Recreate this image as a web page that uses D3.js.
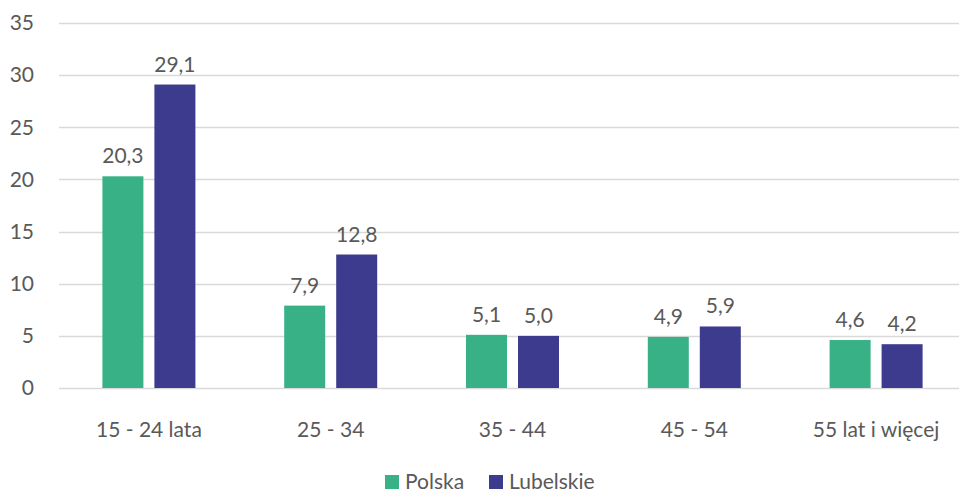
<!DOCTYPE html>
<html>
<head>
<meta charset="utf-8">
<script src="https://cdn.jsdelivr.net/npm/d3@7"></script>
<style>
  body { margin: 0; background: #fff; }
  text { font-family: Lato, sans-serif; fill: #595959; }
</style>
</head>
<body>
<script>
var categories = ['15 - 24 lata', '25 - 34', '35 - 44', '45 - 54', '55 lat i więcej']
var series = ['Polska', 'Lubelskie']
var polska = [20.3, 7.9, 5.1, 4.9, 4.6]
var lubelskie = [29.1, 12.8, 5.0, 5.9, 4.2]
var yTicks = [0, 5, 10, 15, 20, 25, 30, 35]
var colors = ['#38b187', '#3d3b8e']

var width = 959
var height = 493
var fs = '21px'

var svg = d3.select('body').append('svg')
  .attr('width', width)
  .attr('height', height)

var x = d3.scaleBand()
  .domain(categories)
  .range([58, 967])

var y = d3.scaleLinear()
  .domain([0, 35])
  .range([388, 23])

var barW = 41
var gap = 11

// gridlines
svg.append('g')
  .selectAll('line')
  .data(yTicks)
  .enter().append('line')
  .attr('x1', 59)
  .attr('x2', width)
  .attr('y1', function (d) { return Math.round(y(d)) + 0.5 })
  .attr('y2', function (d) { return Math.round(y(d)) + 0.5 })
  .attr('stroke', '#d9d9d9')
  .attr('stroke-width', 1.3)

// y labels
svg.append('g')
  .selectAll('text')
  .data(yTicks)
  .enter().append('text')
  .attr('x', 34)
  .attr('y', function (d) { return y(d) })
  .attr('dy', '0.35em')
  .attr('text-anchor', 'end')
  .style('font-size', fs)
  .text(function (d) { return d })

var rows = categories.map(function (c, i) {
  return { cat: c, vals: [polska[i], lubelskie[i]] }
})

var groups = svg.append('g')
  .selectAll('g')
  .data(rows)
  .enter().append('g')
  .attr('transform', function (d) {
    return 'translate(' + (x(d.cat) + x.bandwidth() / 2) + ',0)'
  })

function barX (j) {
  return j === 0 ? -barW - gap / 2 : gap / 2
}

groups.selectAll('rect')
  .data(function (d) { return d.vals })
  .enter().append('rect')
  .attr('x', function (d, j) { return barX(j) })
  .attr('width', barW)
  .attr('y', function (d) { return y(d) })
  .attr('height', function (d) { return y(0) - y(d) })
  .attr('fill', function (d, j) { return colors[j] })

groups.selectAll('text')
  .data(function (d) { return d.vals })
  .enter().append('text')
  .attr('x', function (d, j) { return barX(j) + barW / 2 })
  .attr('y', function (d) { return y(d) - 13 })
  .attr('text-anchor', 'middle')
  .style('font-size', fs)
  .text(function (d) { return d.toFixed(1).replace('.', ',') })

// category labels
groups.append('text')
  .attr('y', 437)
  .attr('text-anchor', 'middle')
  .style('font-size', fs)
  .text(function (d) { return d.cat })

// legend
var legendX = [385, 489]
var legend = svg.append('g')
  .selectAll('g')
  .data(series)
  .enter().append('g')
  .attr('transform', function (d, i) { return 'translate(' + legendX[i] + ',475)' })

legend.append('rect')
  .attr('width', 14)
  .attr('height', 14)
  .attr('fill', function (d, i) { return colors[i] })

legend.append('text')
  .attr('x', 20)
  .attr('y', 7)
  .attr('dy', '0.35em')
  .style('font-size', fs)
  .text(function (d) { return d })
</script>
</body>
</html>
